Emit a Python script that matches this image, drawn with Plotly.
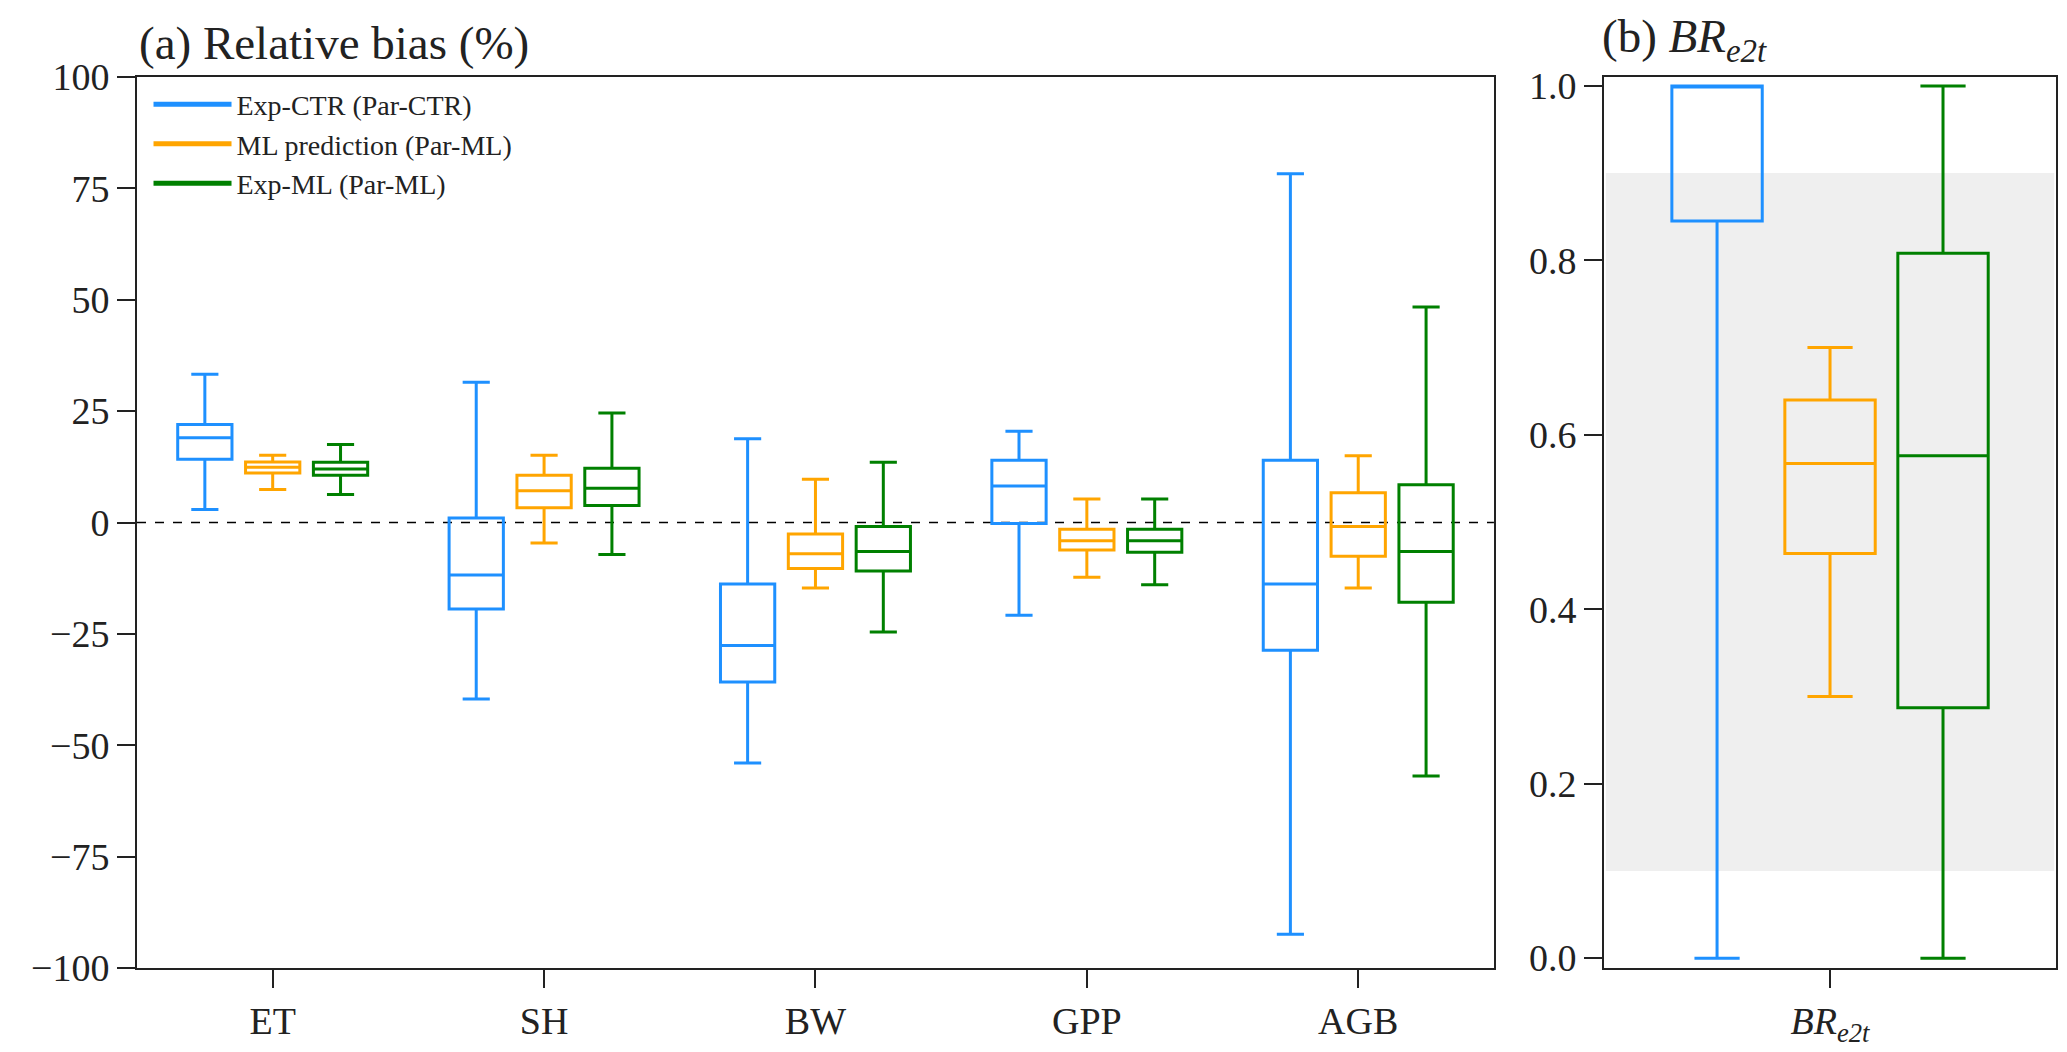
import plotly.graph_objects as go

# variables on panel (a)
categories = ["ET", "SH", "BW", "GPP", "AGB"]
series_names = ["Exp-CTR (Par-CTR)", "ML prediction (Par-ML)", "Exp-ML (Par-ML)"]
colors = ["#1E90FF", "#FFA500", "#008000"]

# box statistics, relative bias in %
ctr_low = [2.9, -39.6, -54.0, -20.8, -92.4]
ctr_q1 = [14.2, -19.4, -35.8, -0.2, -28.7]
ctr_med = [19.0, -11.8, -27.6, 8.2, -13.8]
ctr_q3 = [22.0, 1.0, -13.8, 14.0, 14.0]
ctr_high = [33.3, 31.5, 18.8, 20.5, 78.3]

mlp_low = [7.4, -4.6, -14.7, -12.3, -14.7]
mlp_q1 = [11.1, 3.3, -10.3, -6.2, -7.6]
mlp_med = [12.4, 7.1, -7.0, -4.1, -0.9]
mlp_q3 = [13.6, 10.6, -2.6, -1.5, 6.7]
mlp_high = [15.1, 15.1, 9.7, 5.3, 15.0]

ml_low = [6.3, -7.2, -24.6, -14.0, -56.9]
ml_q1 = [10.6, 3.8, -10.9, -6.7, -17.9]
ml_med = [12.0, 7.7, -6.5, -4.1, -6.5]
ml_q3 = [13.5, 12.2, -0.9, -1.5, 8.5]
ml_high = [17.5, 24.6, 13.5, 5.3, 48.4]

# panel (b): BR_e2t, one box per experiment
br_low = [0.0, 0.30, 0.0]
br_q1 = [0.845, 0.464, 0.287]
br_med = [1.0, 0.567, 0.576]
br_q3 = [1.0, 0.640, 0.808]
br_high = [1.0, 0.700, 1.0]
br_band = [0.1, 0.9]

stats_a = [
    (ctr_low, ctr_q1, ctr_med, ctr_q3, ctr_high),
    (mlp_low, mlp_q1, mlp_med, mlp_q3, mlp_high),
    (ml_low, ml_q1, ml_med, ml_q3, ml_high),
]
offsets = [-0.25, 0.0, 0.25]

FONT = "Liberation Serif"
INK = "#222222"

fig = go.Figure()

for j, (lo, q1, med, q3, hi) in enumerate(stats_a):
    fig.add_trace(go.Box(
        x=[i + offsets[j] for i in range(len(categories))],
        lowerfence=lo, q1=q1, median=med, q3=q3, upperfence=hi,
        width=0.2, whiskerwidth=0.5,
        line=dict(color=colors[j], width=3),
        fillcolor="rgba(0,0,0,0)",
        showlegend=False, xaxis="x", yaxis="y",
    ))
    # line glyph for the legend
    fig.add_trace(go.Scatter(
        x=[None], y=[None], mode="lines", name=series_names[j],
        line=dict(color=colors[j], width=5), xaxis="x", yaxis="y",
    ))

for j in range(3):
    fig.add_trace(go.Box(
        x=[1 + offsets[j]],
        lowerfence=[br_low[j]], q1=[br_q1[j]], median=[br_med[j]],
        q3=[br_q3[j]], upperfence=[br_high[j]],
        width=0.2, whiskerwidth=0.5,
        line=dict(color=colors[j], width=3),
        fillcolor="rgba(0,0,0,0)",
        showlegend=False, xaxis="x2", yaxis="y2",
    ))

axis_style = dict(
    showline=True, mirror=True, linecolor=INK, linewidth=2,
    ticks="outside", ticklen=18, tickwidth=2, tickcolor=INK,
    showgrid=False, zeroline=False,
    tickfont=dict(family=FONT, size=38, color=INK),
)

fig.update_layout(
    width=2067, height=1052,
    margin=dict(l=129, r=19, t=69, b=79),
    paper_bgcolor="white", plot_bgcolor="white",
    font=dict(family=FONT, color=INK),
    boxmode="overlay",
    xaxis=dict(domain=[0, 0.7071], range=[-0.5, 4.5],
               tickvals=list(range(len(categories))), ticktext=categories,
               **axis_style),
    yaxis=dict(range=[-100, 100], tickvals=[-100, -75, -50, -25, 0, 25, 50, 75, 100],
               **axis_style),
    xaxis2=dict(domain=[0.7645, 1], range=[0.5, 1.5], anchor="y2",
                tickvals=[1], ticktext=["<i>BR<sub>e2t</sub></i>"],
                **axis_style),
    yaxis2=dict(range=[-0.0113, 1.0102], anchor="x2",
                tickvals=[0, 0.2, 0.4, 0.6, 0.8, 1.0], tickformat=".1f",
                **axis_style),
    legend=dict(x=0.006, y=0.997, xanchor="left", yanchor="top",
                bgcolor="rgba(0,0,0,0)", font=dict(family=FONT, size=28, color=INK),
                itemwidth=78, tracegroupgap=0),
    shapes=[
        dict(type="line", xref="x domain", yref="y", x0=0, x1=1, y0=0, y1=0,
             line=dict(color="black", width=1.5, dash="dash"), layer="below"),
        dict(type="rect", xref="x2 domain", yref="y2", x0=0.004, x1=0.996,
             y0=br_band[0], y1=br_band[1], fillcolor="#efefef",
             line=dict(width=0), layer="below"),
    ],
    annotations=[
        dict(text="(a) Relative bias (%)", xref="x domain", yref="y domain",
             x=0, y=1.0, yshift=6, xanchor="left", yanchor="bottom", showarrow=False,
             font=dict(family=FONT, size=47, color=INK)),
        dict(text="(b) <i>BR<sub>e2t</sub></i>", xref="x2 domain", yref="y2 domain",
             x=0, y=1.0, yshift=6, xshift=-4, xanchor="left", yanchor="bottom",
             showarrow=False, font=dict(family=FONT, size=47, color=INK)),
    ],
)

fig.write_html("out.html")
